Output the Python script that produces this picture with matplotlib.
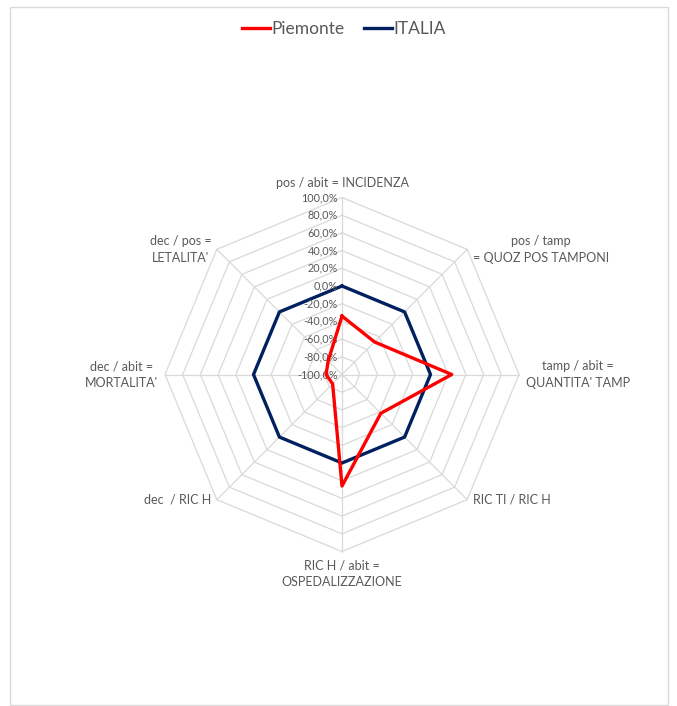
import numpy as np
import matplotlib
matplotlib.use("Agg")
import matplotlib.pyplot as plt
from matplotlib.patches import Rectangle
from matplotlib.transforms import offset_copy

# etichette degli assi (in senso orario partendo dall'alto)
categorie = [
    "pos / abit = INCIDENZA",
    "pos / tamp\n= QUOZ POS TAMPONI",
    "tamp / abit =\nQUANTITA' TAMP",
    "RIC TI / RIC H",
    "RIC H / abit =\nOSPEDALIZZAZIONE",
    "dec  / RIC H",
    "dec / abit =\nMORTALITA'",
    "dec / pos =\nLETALITA'",
]
piemonte = [-34, -48, 24, -38, 26, -85, -82, -78]
italia = [0, 0, 0, 0, 0, 0, 0, 0]
livelli = [-100, -80, -60, -40, -20, 0, 20, 40, 60, 80, 100]
etichette_livelli = ["-100,0%", "-80,0%", "-60,0%", "-40,0%", "-20,0%", "0,0%",
                     "20,0%", "40,0%", "60,0%", "80,0%", "100,0%"]

plt.rcParams["font.family"] = ["Lato", "DejaVu Sans"]
testo = "#595959"
griglia = "#d9d9d9"

W, H = 677, 706
fig = plt.figure(figsize=(W / 100, H / 100), dpi=100)

# cornice del grafico
fig.patches.append(Rectangle((10 / W, 1 / H), 658 / W, 698 / H, transform=fig.transFigure,
                             fill=False, edgecolor=griglia, linewidth=1))

cx, cy, R = 342, 374.5, 177
ax = fig.add_axes([(cx - R) / W, (H - cy - R) / H, 2 * R / W, 2 * R / H], projection="polar")
ax.set_theta_offset(np.pi / 2)
ax.set_theta_direction(-1)
ax.set_ylim(-100, 100)
ax.grid(False)
ax.set_xticks([])
ax.set_yticks([])
ax.spines["polar"].set_visible(False)
ax.patch.set_alpha(0)

n = len(categorie)
angoli = np.linspace(0, 2 * np.pi, n, endpoint=False)
chiuso = np.append(angoli, angoli[0])

# griglia poligonale
for lv in livelli[1:]:
    ax.plot(chiuso, [lv] * (n + 1), color=griglia, linewidth=0.9, clip_on=False, zorder=1)
for a in angoli:
    ax.plot([a, a], [-100, 100], color=griglia, linewidth=0.9, clip_on=False, zorder=1)

ax.plot(chiuso, italia + italia[:1], color="#002060", linewidth=2.4, label="ITALIA", zorder=3)
ax.plot(chiuso, piemonte + piemonte[:1], color="#ff0000", linewidth=2.4, label="Piemonte", zorder=4)

# etichette dei livelli lungo l'asse verticale
tr = offset_copy(ax.transData, fig=fig, x=-3, y=0, units="points")
for lv, et in zip(livelli, etichette_livelli):
    ax.text(0, lv, et, transform=tr, ha="right", va="center", fontsize=7.8, color=testo)

# etichette delle categorie
pos = [
    (0, 6, "center", "bottom"),
    (4, 0, "left", "center"),
    (5, 0, "left", "center"),
    (4, 0, "left", "center"),
    (0, -6, "center", "top"),
    (-4, 0, "right", "center"),
    (-5, 0, "right", "center"),
    (-4, 0, "right", "center"),
]
for a, cat, (dx, dy, ha, va) in zip(angoli, categorie, pos):
    t = offset_copy(ax.transData, fig=fig, x=dx, y=dy, units="points")
    ax.text(a, 100, cat, transform=t, ha=ha, va=va, multialignment="center",
            fontsize=9, color=testo, linespacing=1.45)

handles, labels = ax.get_legend_handles_labels()
fig.legend(handles[::-1], labels[::-1], loc="center", bbox_to_anchor=(344 / W, 1 - 29 / H),
           ncol=2, frameon=False, fontsize=12.5, handlelength=1.6, handletextpad=0.1,
           columnspacing=1.1, labelcolor=testo)

fig.savefig("out.png", dpi=100, facecolor="white")
